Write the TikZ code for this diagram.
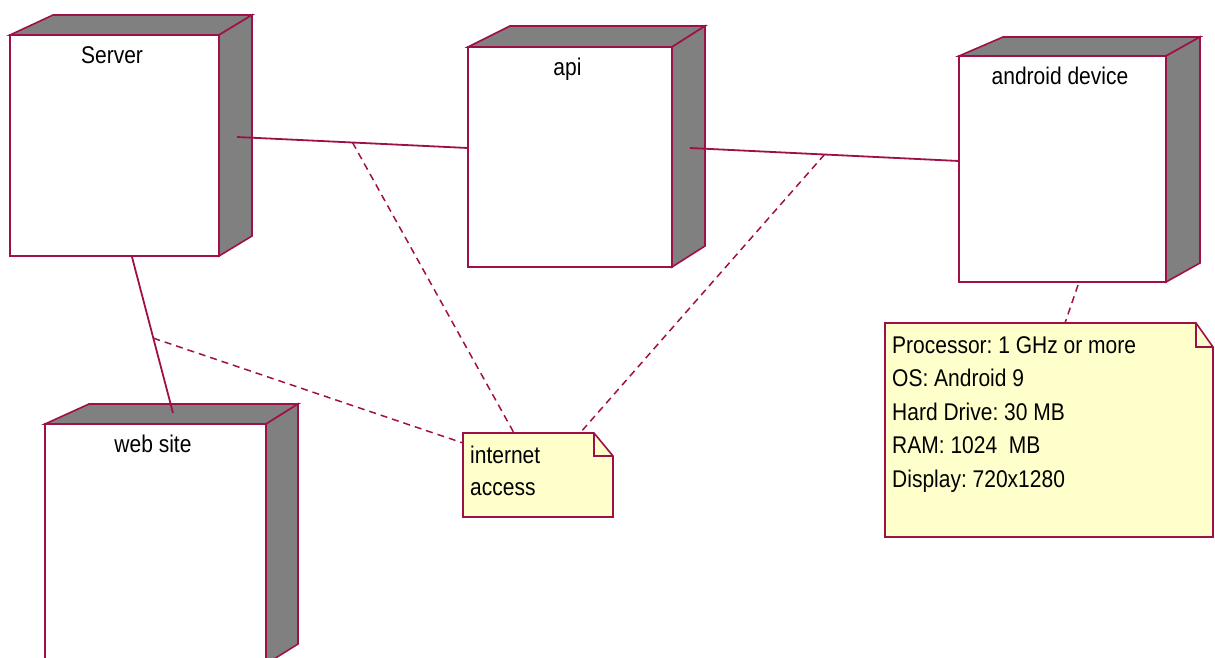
\documentclass[tikz,border=0pt]{standalone}
\usepackage{fontspec}
\setmainfont{Liberation Sans}
\usetikzlibrary{calc}

\definecolor{umlline}{RGB}{160,16,72}
\definecolor{umlside}{RGB}{128,128,128}
\definecolor{notefill}{RGB}{255,255,204}

% slightly tall lettering
\newcommand\tallText[1]{\scalebox{1}[1.15]{#1}}

% deployment node: name, x, y (top-left of front face), width, height,
% top-left depth offset, right depth offset, depth height, caption
\newcommand\device[9]{%
  \node[front, minimum width=#4pt, minimum height=#5pt] (#1) at (#2,#3) {};
  \path[face] (#1.north west) -- ++(#6,-#8) -- ([shift={(#7,-#8)}]#1.north east)
              -- (#1.north east) -- cycle;
  \path[face] (#1.north east) -- ++(#7,-#8) -- ([shift={(#7,-#8)}]#1.south east)
              -- (#1.south east) -- cycle;
  \draw[umlline, line width=2.4pt] (#1.north east) -- (#1.south east);
  \node[lbl] (#1-name) at ([shift={(-2.5pt,-28pt)}]#1.north) {\tallText{#9}};
}

\frenchspacing
\begin{document}
\begin{tikzpicture}[x=1pt,y=-1pt,
  front/.style={draw=umlline, line width=1.6pt, fill=white, inner sep=0pt,
                outer sep=0pt, anchor=north west},
  face/.style={draw=umlline, line width=1.6pt, fill=umlside, line join=miter},
  lbl/.style={font=\fontsize{21}{25}\selectfont, inner sep=0pt, anchor=base},
  txt/.style={font=\fontsize{21}{25}\selectfont, inner sep=0pt, anchor=base west},
  link/.style={draw=umlline, line width=1.8pt},
  noteline/.style={draw=umlline, line width=1.5pt, dash pattern=on 7pt off 5pt},
  notearea/.style={inner sep=0pt, outer sep=0pt, anchor=north west},
  notebox/.style={draw=umlline, line width=1.6pt, fill=notefill, line join=miter}]

\useasboundingbox (0,0) rectangle (1215,657);
\clip (0,0) rectangle (1215,657);

% devices
\device{server}{10}{35}{209}{221}{43}{33}{20}{Server}
\device{api}{468}{47}{204}{220}{42}{33}{21}{api}
\device{android}{959}{56}{207}{226}{44}{34}{19}{android device}
\device{web}{45}{424}{221}{240}{44}{32}{20}{web site}

% connection end points
\coordinate (server-out) at (237,137);
\coordinate (api-in) at (468,148);
\coordinate (api-out) at (690,148);
\coordinate (android-in) at (959,161);
\coordinate (server-down) at (132,257);
\coordinate (web-in) at (173,413);

% communication links
\path[link] (server-out) -- coordinate[pos=0.5] (sa-mid) (api-in);
\path[link] (api-out) -- coordinate[pos=0.5] (aa-mid) (android-in);
\path[link] (server-down) -- coordinate[pos=0.52] (sw-mid) (web-in);

% note areas
\node[notearea, minimum width=150pt, minimum height=84pt] (inet) at (463,433) {};
\node[notearea, minimum width=328pt, minimum height=214pt] (spec) at (885,323) {};

% note attachments
\coordinate (inet-a) at (514,433);
\coordinate (inet-b) at (580,433);
\coordinate (inet-c) at (463,443);
\coordinate (android-foot) at (1078,285);
\coordinate (spec-top) at (1065,323);
\path[noteline] (sa-mid) -- (inet-a);
\path[noteline] (aa-mid) -- (inet-b);
\path[noteline] (sw-mid) -- (inet-c);
\path[noteline] (android-foot) -- (spec-top);

% note: internet access
\path[notebox] (inet.north west) -- ([xshift=-19pt]inet.north east)
  -- ([yshift=-23pt]inet.north east) -- (inet.south east) -- (inet.south west) -- cycle;
\draw[umlline, line width=1.6pt] ([xshift=-19pt]inet.north east) |- ([yshift=-23pt]inet.north east);
\node[txt] (inet-1) at (470,463) {\tallText{internet}};
\node[txt] (inet-2) at (470,495) {\tallText{access}};

% note: device requirements
\path[notebox] (spec.north west) -- ([xshift=-17pt]spec.north east)
  -- ([yshift=-24pt]spec.north east) -- (spec.south east) -- (spec.south west) -- cycle;
\draw[umlline, line width=1.6pt] ([xshift=-17pt]spec.north east) |- ([yshift=-24pt]spec.north east);
\foreach \t [count=\i] in {Processor: 1 GHz or more, OS: Android 9, Hard Drive: 30 MB,
                           RAM: 1024~~MB, Display: 720x1280}
  \node[txt] (spec-\i) at (892,{353+33.5*(\i-1)}) {\tallText{\t}};

\end{tikzpicture}
\end{document}
